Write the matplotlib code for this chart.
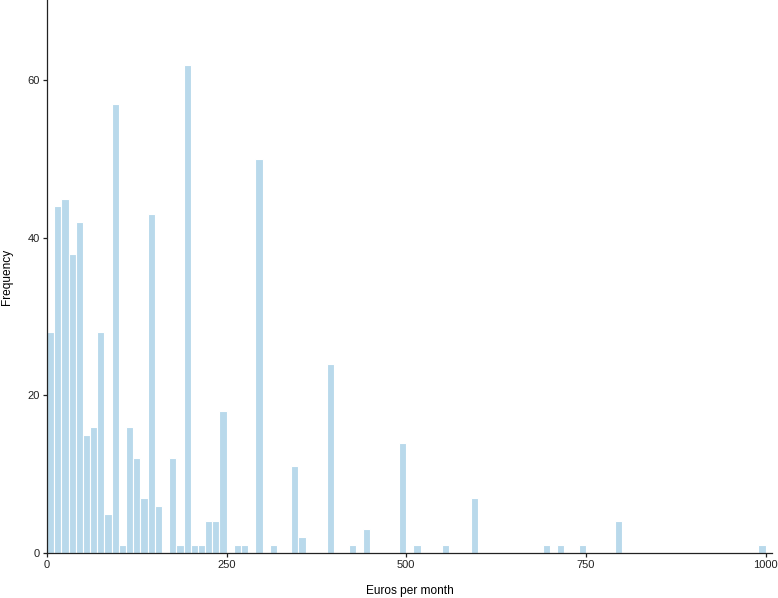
import numpy as np
import matplotlib
matplotlib.use("Agg")
import matplotlib.pyplot as plt

plt.rcParams["font.family"] = ["Liberation Sans", "DejaVu Sans"]

# histogram bins of 10 euros, right-closed; upper edge -> count (empty bins left out)
bin_upper = [10, 20, 30, 40, 50, 60, 70, 80, 90, 100,
             110, 120, 130, 140, 150, 160, 180, 190, 200,
             210, 220, 230, 240, 250, 270, 280, 300, 320,
             350, 360, 400, 430, 450, 500, 520, 560, 600,
             700, 720, 750, 800, 1000]
counts = [28, 44, 45, 38, 42, 15, 16, 28, 5, 57,
          1, 16, 12, 7, 43, 6, 12, 1, 62,
          1, 1, 4, 4, 18, 1, 1, 50, 1,
          11, 2, 24, 1, 3, 14, 1, 1, 7,
          1, 1, 1, 4, 1]
bin_width = 10

x_ticks = [0, 250, 500, 750, 1000]
y_ticks = [0, 20, 40, 60]

fig = plt.figure(figsize=(7.78, 5.98), dpi=100)
ax = fig.add_axes([0.0604, 0.0753, 0.9319, 0.9247])

left_edges = np.array(bin_upper) - bin_width
ax.bar(left_edges, counts, width=bin_width, align="edge",
       color="#b9d9eb", edgecolor="white", linewidth=0.8)

ax.set_xlim(0, 1009)
ax.set_ylim(0, 70.2)
ax.set_xticks(x_ticks)
ax.set_yticks(y_ticks)

for side in ["top", "right"]:
    ax.spines[side].set_visible(False)
for side in ["left", "bottom"]:
    ax.spines[side].set_linewidth(0.9)
    ax.spines[side].set_color("#222222")

ax.tick_params(axis="both", length=3, width=0.9, color="#222222",
               labelsize=8, labelcolor="#222222", pad=2.2)

ax.set_xlabel("Euros per month", fontsize=8.6, va="center")
ax.set_ylabel("Frequency", fontsize=8.6, va="center")
ax.xaxis.set_label_coords(0.5, -0.069)
ax.yaxis.set_label_coords(-0.0545, 0.5)

fig.savefig("out.png", dpi=100)
